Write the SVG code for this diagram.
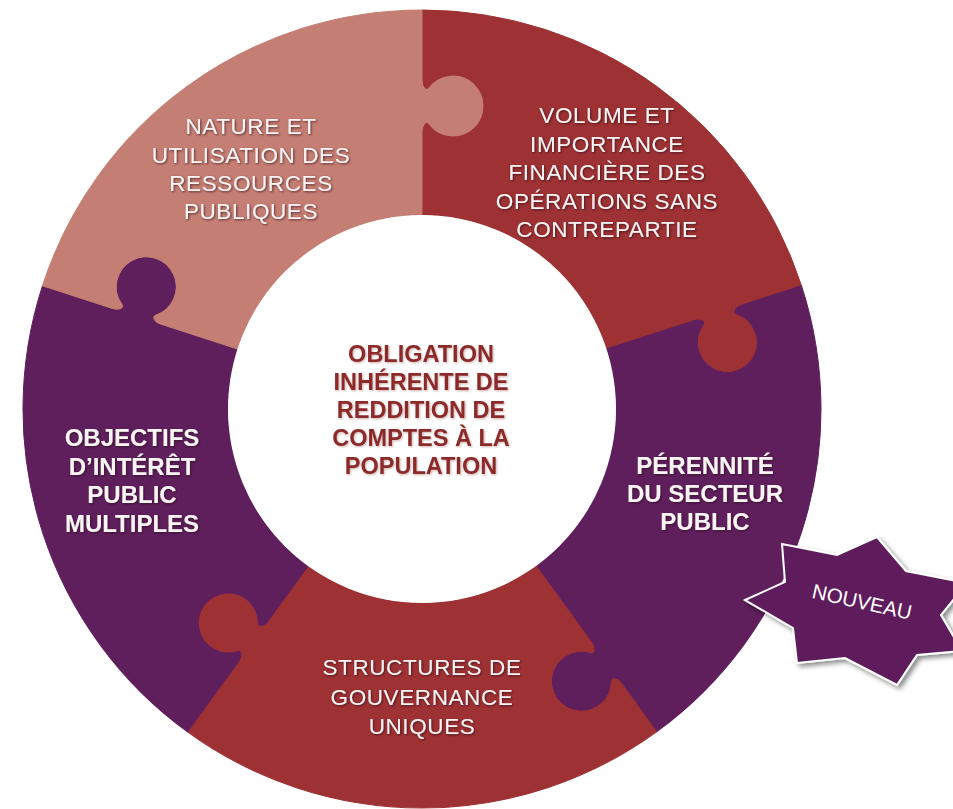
<svg xmlns="http://www.w3.org/2000/svg" width="953" height="809" viewBox="0 0 953 809">
  <defs>
    <style>
      .pink { fill: #C57E73; stroke: #C57E73; stroke-width: 1; stroke-linejoin: round; }
      .red { fill: #9E3133; stroke: #9E3133; stroke-width: 1; stroke-linejoin: round; }
      .purple { fill: #5F1F5C; stroke: #5F1F5C; stroke-width: 1; stroke-linejoin: round; }
      .lbl { font-family: "Liberation Sans", Arial, sans-serif; font-size: 22.5px; letter-spacing: 0.6px; fill: #FAF3F3; text-anchor: middle; filter: url(#ts); }
      .lblb { font-family: "Liberation Sans", Arial, sans-serif; font-size: 24px; font-weight: bold; fill: #FAF3F3; text-anchor: middle; filter: url(#ts); }
      .core { font-family: "Liberation Sans", Arial, sans-serif; font-size: 23.5px; font-weight: bold; fill: #8C2B2B; text-anchor: middle; filter: url(#cs); }
      .badge { fill: #5F1F5C; stroke: #FFFFFF; stroke-width: 2; stroke-linejoin: miter; filter: url(#ss); }
      .badgetxt { font-family: "Liberation Sans", Arial, sans-serif; font-size: 20.5px; fill: #FFFFFF; text-anchor: middle; }
    </style>
    <filter id="ts" x="-10%" y="-30%" width="120%" height="160%">
      <feDropShadow dx="1" dy="1" stdDeviation="1" flood-color="#2A0A1A" flood-opacity="0.7"/>
    </filter>
    <filter id="cs" x="-10%" y="-30%" width="120%" height="160%">
      <feDropShadow dx="1" dy="1" stdDeviation="1" flood-color="#6A2020" flood-opacity="0.35"/>
    </filter>
    <filter id="ss" x="-20%" y="-20%" width="150%" height="150%">
      <feDropShadow dx="3" dy="3" stdDeviation="2.5" flood-color="#000000" flood-opacity="0.45"/>
    </filter>
  </defs>

  <rect width="953" height="809" fill="#FFFFFF"/>

  <!-- Ring of five interlocking puzzle pieces, each a 72 degree sector around (422,409) -->
  <g id="piece-volume">
    <path class="red" transform="translate(422,409) rotate(0)" d="M0,-399 A399,399 0 0 1 379.47,-123.30 L320.51,-104.14 C313.85,-101.98 310.33,-96.63 315.06,-95.01 A30,30 0 1 1 280.82,-83.89 C283.70,-87.97 277.71,-90.23 271.05,-88.07 L184.51,-59.95 A194,194 0 0 0 0,-194 L0,-277 C0,-284 4,-289 7,-285 A30,30 0 1 0 7,-321 C4,-317 0,-322 0,-329 Z"/>
    <text class="lbl" x="607" y="123">VOLUME ET</text>
    <text class="lbl" x="607" y="152">IMPORTANCE</text>
    <text class="lbl" x="607" y="180">FINANCIÈRE DES</text>
    <text class="lbl" x="607" y="209">OPÉRATIONS SANS</text>
    <text class="lbl" x="607" y="237">CONTREPARTIE</text>
  </g>

  <g id="piece-perennite">
    <path class="purple" transform="translate(422,409) rotate(72)" d="M0,-399 A399,399 0 0 1 379.47,-123.30 L323.36,-105.07 C316.70,-102.90 313.18,-97.55 317.91,-95.94 A30,30 0 1 1 283.68,-84.81 C286.55,-88.90 280.56,-91.16 273.91,-89.00 L184.51,-59.95 A194,194 0 0 0 0,-194 L0,-285 C0,-292 4,-297 7,-293 A30,30 0 1 0 7,-329 C4,-325 0,-330 0,-337 Z"/>
    <text class="lblb" x="705" y="474">PÉRENNITÉ</text>
    <text class="lblb" x="705" y="502">DU SECTEUR</text>
    <text class="lblb" x="705" y="530">PUBLIC</text>
  </g>

  <g id="piece-structures">
    <path class="red" transform="translate(422,409) rotate(144)" d="M0,-399 A399,399 0 0 1 379.47,-123.30 L297.68,-96.72 C291.02,-94.56 287.50,-89.21 292.24,-87.59 A30,30 0 1 1 258.00,-76.47 C260.87,-80.56 254.88,-82.82 248.23,-80.65 L184.51,-59.95 A194,194 0 0 0 0,-194 L0,-288 C0,-295 4,-300 7,-296 A30,30 0 1 0 7,-332 C4,-328 0,-333 0,-340 Z"/>
    <text class="lbl" x="422" y="675">STRUCTURES DE</text>
    <text class="lbl" x="422" y="705">GOUVERNANCE</text>
    <text class="lbl" x="422" y="734">UNIQUES</text>
  </g>

  <g id="piece-objectifs">
    <path class="purple" transform="translate(422,409) rotate(216)" d="M0,-399 A399,399 0 0 1 379.47,-123.30 L310.04,-100.74 C303.39,-98.58 299.87,-93.23 304.60,-91.61 A30,30 0 1 1 270.36,-80.49 C273.24,-84.58 267.25,-86.83 260.59,-84.67 L184.51,-59.95 A194,194 0 0 0 0,-194 L0,-261 C0,-268 4,-273 7,-269 A30,30 0 1 0 7,-305 C4,-301 0,-306 0,-313 Z"/>
    <text class="lblb" x="132" y="446">OBJECTIFS</text>
    <text class="lblb" x="132" y="475">D’INTÉRÊT</text>
    <text class="lblb" x="132" y="503">PUBLIC</text>
    <text class="lblb" x="132" y="532">MULTIPLES</text>
  </g>

  <g id="piece-nature">
    <path class="pink" transform="translate(422,409) rotate(288)" d="M0,-399 A399,399 0 0 1 379.47,-123.30 L312.90,-101.67 C306.24,-99.50 302.72,-94.15 307.45,-92.54 A30,30 0 1 1 273.21,-81.41 C276.09,-85.50 270.10,-87.76 263.44,-85.60 L184.51,-59.95 A194,194 0 0 0 0,-194 L0,-274 C0,-281 4,-286 7,-282 A30,30 0 1 0 7,-318 C4,-314 0,-319 0,-326 Z"/>
    <text class="lbl" x="251" y="134">NATURE ET</text>
    <text class="lbl" x="251" y="163">UTILISATION DES</text>
    <text class="lbl" x="251" y="191">RESSOURCES</text>
    <text class="lbl" x="251" y="219">PUBLIQUES</text>
  </g>

  <!-- Centre hub -->
  <g id="hub">
    <circle cx="422" cy="409" r="194" fill="#FFFFFF"/>
    <text class="core" x="421" y="362">OBLIGATION</text>
    <text class="core" x="421" y="390">INHÉRENTE DE</text>
    <text class="core" x="421" y="418">REDDITION DE</text>
    <text class="core" x="421" y="446">COMPTES À LA</text>
    <text class="core" x="421" y="474">POPULATION</text>
  </g>

  <!-- "Nouveau" badge: seven-point star -->
  <g id="badge-nouveau">
    <polygon class="badge" points="745,600 785,582 782,544 837,555 877,537 906,571 967,583 941,615 962,651 917,655 897,685 845,658 797,663 793,628"/>
    <text class="badgetxt" transform="rotate(12.5 862 602)" x="862" y="609">NOUVEAU</text>
  </g>
</svg>
